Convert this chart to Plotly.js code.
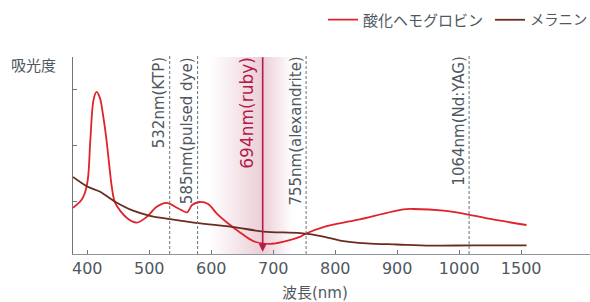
<!DOCTYPE html>
<html><head><meta charset="utf-8">
<script src="https://cdn.plot.ly/plotly-3.0.1.min.js"></script>
<style>html,body{margin:0;padding:0;background:#fff}#chart{width:590px;height:302px}</style>
</head><body><div id="chart"></div>
<script>
// Oxyhemoglobin absorbance (relative) vs wavelength (nm)
const oxyWavelength = [377,390,396,401,405,410,415,420.5,426,431,435,439.5,445,464,480,496,512,528,547,561,569,581,595,609,630,647,668,695,717,744,754,781,835,910,926,975,1064,1253,1543];
const oxyAbsorbance = [0.89,1.02,1.15,1.40,2.10,2.80,2.95,2.84,2.50,2.10,1.70,1.27,0.98,0.71,0.63,0.73,0.91,0.98,0.88,0.81,0.94,0.995,0.96,0.79,0.59,0.45,0.30,0.25,0.29,0.38,0.44,0.55,0.675,0.865,0.87,0.84,0.776,0.693,0.586];
// Melanin absorbance (relative)
const melWavelength = [377,400,420,445,474,501,534,578,636,684,744,781,808,851,900,954,1118,1543];
const melAbsorbance = [1.44,1.27,1.18,1.00,0.84,0.75,0.69,0.62,0.55,0.47,0.44,0.38,0.31,0.26,0.24,0.22,0.225,0.225];
// Tick labels (axis is compressed above 1000 nm)
const tickNm = [400,500,600,700,800,900,1000,1500];
const tickLabels = ['400','500','600','700','800','900','1000','1500'];
// Laser lines (positions as drawn) and labels
const laserPos = [533,578,753,1080];
const laserLabels = ['532nm(KTP)','585nm(pulsed dye)','755nm(alexandrite)','1064nm(Nd:YAG)'];
const rubyPos = 683;
const rubyLabel = '694nm(ruby)';
const bandEdges = [598,731];
const seriesNames = ['酸化ヘモグロビン','メラニン'];

function tx(nm){ return nm <= 1000 ? nm : 1000 + (nm - 1000) / 5; }

const yRange = [0.071, 3.57];
const FONT = 'DejaVu Sans, Noto Sans CJK JP, sans-serif';
const GREY = '#4f5860';
const RUBY = '#b5194e';

const traces = [
  {
    type:'scatter', mode:'lines', showlegend:false, hoverinfo:'skip',
    x:[tx(bandEdges[0]),tx(bandEdges[1]),tx(bandEdges[1]),tx(bandEdges[0]),tx(bandEdges[0])],
    y:[yRange[0],yRange[0],yRange[1],yRange[1],yRange[0]],
    fill:'toself', line:{width:0},
    fillgradient:{type:'horizontal', colorscale:[[0,'rgba(235,206,214,0)'],[0.64,'rgba(235,206,214,1)'],[1,'rgba(235,206,214,0)']]}
  },
  {
    type:'scatter', mode:'lines', name:seriesNames[0], legend:'legend',
    x:oxyWavelength.map(tx), y:oxyAbsorbance,
    line:{color:'#e0232b', width:1.8, shape:'spline', smoothing:0.9}
  },
  {
    type:'scatter', mode:'lines', name:seriesNames[1], legend:'legend2',
    x:melWavelength.map(tx), y:melAbsorbance,
    line:{color:'#6a2c1f', width:1.8, shape:'spline', smoothing:0.9}
  }
];

const shapes = laserPos.map(p => ({
  type:'line', xref:'x', yref:'paper', x0:tx(p), x1:tx(p), y0:0, y1:1.01,
  line:{color:'#6b7076', width:1, dash:'3px,2px'}, layer:'above'
}));

const annotations = laserPos.map((p,i) => ({
  x:tx(p), y:1.01, xref:'x', yref:'paper', text:laserLabels[i], textangle:-90,
  xanchor:'right', yanchor:'top', showarrow:false, xshift:0,
  font:{family:FONT, size:15, color:GREY}
}));
annotations.push({
  x:tx(rubyPos), y:1.01, xref:'x', yref:'paper', text:rubyLabel, textangle:-90,
  xanchor:'right', yanchor:'top', showarrow:false, xshift:-4,
  font:{family:FONT, size:17, color:RUBY}
});
annotations.push({
  x:tx(rubyPos), y:0.112, ax:tx(rubyPos), ay:yRange[1]+0.02, xref:'x', yref:'y', axref:'x', ayref:'y',
  text:'', showarrow:true, arrowhead:2, arrowsize:1, arrowwidth:1.6, arrowcolor:RUBY, standoff:0, startstandoff:0
});
annotations.push({
  x:-0.0764, y:0.954, xref:'paper', yref:'paper', text:'吸光度', showarrow:false,
  xanchor:'center', yanchor:'middle', font:{family:FONT, size:15, color:GREY}
});
annotations.push({
  x:0.468, y:-0.2, xref:'paper', yref:'paper', text:'波長(nm)', showarrow:false,
  xanchor:'center', yanchor:'middle', font:{family:FONT, size:15, color:GREY}
});

const legendBase = {orientation:'h', xanchor:'left', y:1.188, yanchor:'middle',
  font:{family:FONT, size:15, color:GREY}, bgcolor:'rgba(0,0,0,0)', borderwidth:0};

const layout = {
  width:590, height:302,
  margin:{l:73, r:0, t:57, b:48, autoexpand:false},
  paper_bgcolor:'#fff', plot_bgcolor:'#fff',
  font:{family:FONT, color:GREY},
  showlegend:true,
  legend:Object.assign({}, legendBase, {x:0.4836}),
  legend2:Object.assign({}, legendBase, {x:0.8066, font:{family:FONT, size:14.3, color:GREY}}),
  xaxis:{
    range:[377,1211], showgrid:false, zeroline:false,
    showline:true, linecolor:'#8e969d', linewidth:1.2,
    ticks:'inside', ticklen:4, tickcolor:'#6f777e',
    tickvals:tickNm.map(tx), ticktext:tickLabels,
    tickfont:{family:FONT, size:16, color:GREY}
  },
  yaxis:{
    range:yRange, showgrid:false, zeroline:false,
    showline:true, linecolor:'#6f777e', linewidth:1.2,
    ticks:'inside', ticklen:4, tickcolor:'#6f777e',
    tickvals:[1,2,3], showticklabels:false
  },
  shapes:shapes,
  annotations:annotations
};

Plotly.newPlot('chart', traces, layout, {displayModeBar:false, staticPlot:true});
</script>
</body></html>
